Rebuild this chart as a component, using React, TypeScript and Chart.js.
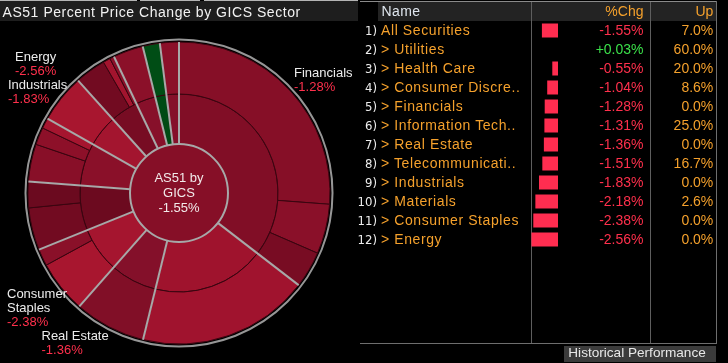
import React, { useEffect, useRef } from 'react';
import { Chart, registerables } from 'chart.js';

Chart.register(...registerables);

// ---------- Sunburst data ----------
const INDEX_NAME = 'AS51';
const INDEX_CHG = -1.55;

const SECTORS = [
  'Financials',
  'Materials',
  'Real Estate',
  'Consumer Staples',
  'Health Care',
  'Industrials',
  'Energy',
  'Consumer Discretionary',
  'Telecommunication Services',
  'Utilities',
  'Information Technology',
];
const SECTOR_WEIGHTS = [35.44, 18.39, 7.64, 7.42, 7.33, 6.97, 5.17, 4.56, 3.22, 1.83, 2.03];
const SECTOR_CHG = [-1.28, -2.18, -1.36, -2.38, -0.55, -1.83, -2.56, -1.04, -1.51, 0.03, -1.31];

// industry-level slices of the outer ring (sector index of each)
const INDUSTRY_SECTOR = [0, 0, 0, 1, 2, 3, 3, 4, 4, 5, 5, 5, 6, 7, 7, 7, 8, 9, 10];
const INDUSTRY_WEIGHTS = [26.19, 5.33, 3.92, 18.39, 7.64, 5.61, 1.81, 4.53, 2.8, 4.0, 1.86, 1.11, 5.17, 3.31, 0.78, 0.47, 3.22, 1.83, 2.03];

// ---------- Table data ----------
const ROW_NAMES = [
  'All Securities',
  'Utilities',
  'Health Care',
  'Consumer Discre..',
  'Financials',
  'Information Tech..',
  'Real Estate',
  'Telecommunicati..',
  'Industrials',
  'Materials',
  'Consumer Staples',
  'Energy',
];
const ROW_CHG = [-1.55, 0.03, -0.55, -1.04, -1.28, -1.31, -1.36, -1.51, -1.83, -2.18, -2.38, -2.56];
const ROW_UP = [7.0, 60.0, 20.0, 8.6, 0.0, 25.0, 0.0, 16.7, 0.0, 2.6, 0.0, 0.0];

// labelled sectors on the sunburst
const LABELED_SECTORS = ['Energy', 'Industrials', 'Financials', 'Consumer Staples', 'Real Estate'];

// ---------- Styles ----------
const CENTER_COLOR = '#860f27';
const SECTOR_COLORS = ['#810e26', '#9f132d', '#84102a', '#a5152f', '#6c0a1f', '#8a1029', '#a3152f', '#770c23', '#87102a', '#004a14', '#85102a'];
const INDUSTRY_COLORS = [
  '#860f27', '#8a1029', '#780c23',
  '#a0132e',
  '#810f27',
  '#a8162f', '#8a1029',
  '#720b21', '#6b0a1f',
  '#880f28', '#8d1029', '#a5152f',
  '#a8162f',
  '#720b21', '#a3142e', '#8a1029',
  '#8b1029',
  '#004d15',
  '#8b1029',
];
const THIN_LINE = '#3a0510';
const SEP_COLOR = '#a8a8a8';
const OUTER_CIRCLE = '#969696';
const LABEL_LAYOUT: Record<string, { x: number; y: number; lines: string[] }> = {
  Energy: { x: 15, y: 61, lines: ['Energy'] },
  Industrials: { x: 8, y: 89.3, lines: ['Industrials'] },
  Financials: { x: 294, y: 76.7, lines: ['Financials'] },
  'Consumer Staples': { x: 7, y: 298.3, lines: ['Consumer', 'Staples'] },
  'Real Estate': { x: 41.5, y: 340, lines: ['Real Estate'] },
};
const ORANGE = '#f5a12c';
const RED_TXT = '#ff304c';
const GREEN_TXT = '#3be04a';
const BAR_RED = '#ff2d50';
const BAR_GREEN = '#2fd04a';
const FONT = '"Liberation Sans", Arial, sans-serif';

const fmtChg = (v: number) => (v > 0 ? '+' : v < 0 ? '-' : '') + Math.abs(v).toFixed(2) + '%';
const fmtUp = (v: number) => v.toFixed(1) + '%';

const overlayPlugin = {
  id: 'sunburstOverlay',
  afterDraw(chart: any) {
    const ctx = chart.ctx as CanvasRenderingContext2D;
    const outerMeta = chart.getDatasetMeta(0);
    const secMeta = chart.getDatasetMeta(1);
    const a0: any = secMeta.data[0];
    const cx = a0.x;
    const cy = a0.y;
    const rIn = a0.innerRadius;
    const rOut = (outerMeta.data[0] as any).outerRadius;
    ctx.save();
    // sector separators
    ctx.strokeStyle = SEP_COLOR;
    ctx.lineWidth = 2;
    secMeta.data.forEach((a: any) => {
      const ang = a.startAngle;
      ctx.beginPath();
      ctx.moveTo(cx + rIn * Math.cos(ang), cy + rIn * Math.sin(ang));
      ctx.lineTo(cx + rOut * Math.cos(ang), cy + rOut * Math.sin(ang));
      ctx.stroke();
    });
    // centre outline
    ctx.beginPath();
    ctx.arc(cx, cy, rIn, 0, Math.PI * 2);
    ctx.stroke();
    // outer circle
    ctx.strokeStyle = OUTER_CIRCLE;
    ctx.beginPath();
    ctx.arc(cx, cy, rOut + 2.5, 0, Math.PI * 2);
    ctx.stroke();
    // centre text
    ctx.fillStyle = '#f2eaea';
    ctx.font = '13px ' + FONT;
    ctx.textAlign = 'center';
    ctx.textBaseline = 'alphabetic';
    ctx.fillText(INDEX_NAME + ' by', cx, cy - 11.3);
    ctx.fillText('GICS', cx, cy + 3.7);
    ctx.fillText(fmtChg(INDEX_CHG), cx, cy + 18.7);
    // sector labels
    ctx.textAlign = 'left';
    LABELED_SECTORS.forEach((name) => {
      const idx = SECTORS.indexOf(name);
      const lay = LABEL_LAYOUT[name];
      let y = lay.y;
      ctx.fillStyle = '#ececec';
      lay.lines.forEach((ln) => {
        ctx.fillText(ln, lay.x, y);
        y += 13.8;
      });
      ctx.fillStyle = SECTOR_CHG[idx] >= 0 ? GREEN_TXT : RED_TXT;
      ctx.fillText(fmtChg(SECTOR_CHG[idx]), lay.x, y);
    });
    ctx.restore();
  },
};

export default function App() {
  const pieRef = useRef<HTMLCanvasElement>(null);
  const barRef = useRef<HTMLCanvasElement>(null);

  useEffect(() => {
    const pie = new Chart(pieRef.current as HTMLCanvasElement, {
      type: 'doughnut',
      data: {
        labels: INDUSTRY_WEIGHTS.map((_, i) => SECTORS[INDUSTRY_SECTOR[i]]),
        datasets: [
          { data: INDUSTRY_WEIGHTS, backgroundColor: INDUSTRY_COLORS, borderColor: THIN_LINE, borderWidth: 1, weight: 52, radius: 151 } as any,
          { data: SECTOR_WEIGHTS, backgroundColor: SECTOR_COLORS, borderColor: THIN_LINE, borderWidth: 1, weight: 50, radius: 151 } as any,
          { data: [100], backgroundColor: [CENTER_COLOR], borderWidth: 0, weight: 49, radius: 151 } as any,
        ],
      },
      options: {
        responsive: false,
        animation: false,
        cutout: 0,
        events: [],
        layout: { padding: { left: 28, right: 28, top: 42, bottom: 19 } },
        plugins: { legend: { display: false }, tooltip: { enabled: false } },
      } as any,
      plugins: [overlayPlugin],
    });

    const bar = new Chart(barRef.current as HTMLCanvasElement, {
      type: 'bar',
      data: {
        labels: ROW_NAMES,
        datasets: [
          {
            data: ROW_CHG,
            backgroundColor: ROW_CHG.map((v) => (v < 0 ? BAR_RED : BAR_GREEN)),
            borderWidth: 0,
            barThickness: 14,
            inflateAmount: 0,
            clip: 0,
          } as any,
        ],
      },
      options: {
        indexAxis: 'y',
        responsive: false,
        animation: false,
        events: [],
        layout: { padding: 0 },
        scales: {
          x: { display: false, min: -2.6, max: 0 },
          y: { display: false },
        },
        plugins: { legend: { display: false }, tooltip: { enabled: false } },
      } as any,
    });

    return () => {
      pie.destroy();
      bar.destroy();
    };
  }, []);

  const abs = (s: React.CSSProperties): React.CSSProperties => ({ position: 'absolute', ...s });
  const rowTop = (i: number) => 21 + 19 * i;

  return (
    <div
      style={{
        position: 'fixed',
        left: 0,
        top: 0,
        width: 728,
        height: 363,
        background: '#000',
        overflow: 'hidden',
        fontFamily: FONT,
      }}
    >
      <canvas ref={pieRef} width={358} height={363} style={abs({ left: 0, top: 0, width: 358, height: 363 })} />

      {/* title bar */}
      <div style={abs({ left: 0, top: 1, width: 358, height: 20, background: '#1e1e1e' })} />
      <div style={abs({ left: 0, top: 0, width: 137, height: 1, background: '#b4b4b4' })} />
      <div style={abs({ left: 140, top: 0, width: 60, height: 1, background: '#b4b4b4' })} />
      <div style={abs({ left: 204, top: 0, width: 154, height: 1, background: '#b4b4b4' })} />
      <div
        style={abs({
          left: 2.5,
          top: 1.5,
          height: 20,
          lineHeight: '20px',
          fontSize: 14,
          letterSpacing: 0.55,
          color: '#f2f2f2',
          whiteSpace: 'nowrap',
        })}
      >
        AS51 Percent Price Change by GICS Sector
      </div>

      {/* table frame */}
      <div style={abs({ left: 360, top: 1, width: 357, height: 1, background: '#8a8a8a' })} />
      <div style={abs({ left: 378, top: 2, width: 338, height: 19, background: '#232323' })} />
      <div style={abs({ left: 531, top: 2, width: 1, height: 341, background: '#5e5e5e' })} />
      <div style={abs({ left: 650, top: 2, width: 1, height: 341, background: '#5e5e5e' })} />
      <div style={abs({ left: 716, top: 1, width: 1, height: 343, background: '#6e6e6e' })} />
      <div style={abs({ left: 360, top: 343, width: 357, height: 1, background: '#6e6e6e' })} />

      {/* header */}
      <div style={abs({ left: 381.5, top: 2, height: 19, lineHeight: '19px', fontSize: 14, letterSpacing: 0.4, color: '#dfe6ee' })}>Name</div>
      <div style={abs({ left: 560, top: 2, width: 83.5, height: 19, lineHeight: '19px', fontSize: 14, color: ORANGE, textAlign: 'right' })}>%Chg</div>
      <div style={abs({ left: 660, top: 2, width: 53.3, height: 19, lineHeight: '19px', fontSize: 14, color: ORANGE, textAlign: 'right' })}>Up</div>

      {/* mini bars */}
      <canvas ref={barRef} width={27} height={228} style={abs({ left: 531, top: 21, width: 27, height: 228 })} />

      {/* rows */}
      {ROW_NAMES.map((name, i) => (
        <React.Fragment key={name}>
          <div
            style={abs({
              left: 350,
              top: rowTop(i),
              width: 27,
              height: 19,
              lineHeight: '19px',
              fontSize: 13,
              fontFamily: '"Liberation Sans Narrow", "DejaVu Sans Condensed", ' + FONT,
              color: '#ececec',
              textAlign: 'right',
            })}
          >
            {i + 1})
          </div>
          <div
            style={abs({
              left: 381,
              top: rowTop(i),
              height: 19,
              lineHeight: '19px',
              fontSize: 14,
              letterSpacing: 0.6,
              color: ORANGE,
              whiteSpace: 'nowrap',
            })}
          >
            {i === 0 ? name : '> ' + name}
          </div>
          <div
            style={abs({
              left: 560,
              top: rowTop(i),
              width: 83.5,
              height: 19,
              lineHeight: '19px',
              fontSize: 14,
              color: ROW_CHG[i] >= 0 ? GREEN_TXT : RED_TXT,
              textAlign: 'right',
            })}
          >
            {fmtChg(ROW_CHG[i])}
          </div>
          <div
            style={abs({
              left: 660,
              top: rowTop(i),
              width: 53.3,
              height: 19,
              lineHeight: '19px',
              fontSize: 14,
              color: ORANGE,
              textAlign: 'right',
            })}
          >
            {fmtUp(ROW_UP[i])}
          </div>
        </React.Fragment>
      ))}

      {/* button */}
      <div
        style={abs({
          left: 564,
          top: 345.7,
          width: 152,
          height: 16,
          background: '#3b3b3b',
        })}
      />
      <div
        style={abs({
          left: 568.3,
          top: 344.7,
          height: 16,
          lineHeight: '16px',
          fontSize: 13.6,
          color: '#e8e8e8',
          whiteSpace: 'nowrap',
        })}
      >
        Historical Performance
      </div>
    </div>
  );
}
